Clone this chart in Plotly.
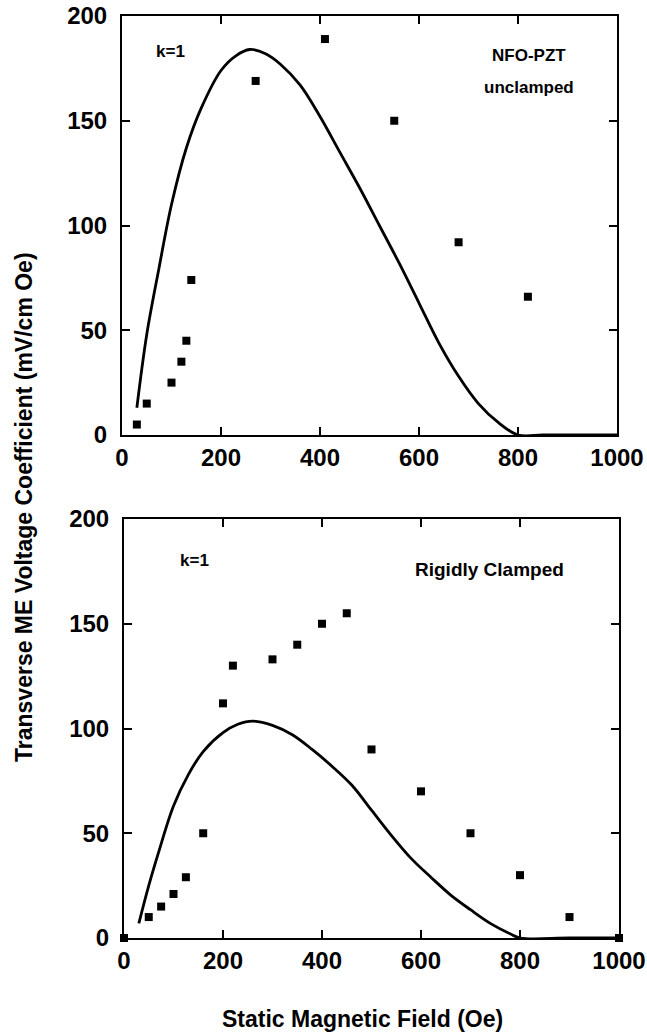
import plotly.graph_objects as go

# ---- data ----
top_exp_x = [30, 50, 100, 120, 130, 140, 270, 410, 550, 680, 820]
top_exp_y = [5, 15, 25, 35, 45, 74, 169, 189, 150, 92, 66]

top_fit_x = [30, 50, 75, 100, 130, 160, 200, 230, 258, 290, 320, 360, 400, 440, 480,
             520, 560, 600, 640, 680, 720, 760, 800, 850, 900, 950, 1000]
top_fit_y = [13, 48, 80, 110, 137, 156, 174, 181, 184, 182, 177, 167, 152, 135, 118,
             100, 82, 63, 44, 28, 15, 6, 0, 0, 0, 0, 0]

bot_exp_x = [0, 50, 75, 100, 125, 160, 200, 220, 300, 350, 400, 450, 500, 600, 700, 800, 900, 1000]
bot_exp_y = [0, 10, 15, 21, 29, 50, 112, 130, 133, 140, 150, 155, 90, 70, 50, 30, 10, 0]

bot_fit_x = [30, 50, 70, 100, 130, 160, 200, 230, 260, 300, 340, 380, 420, 460, 500,
             540, 580, 620, 660, 700, 740, 780, 800, 900, 1000]
bot_fit_y = [7, 25, 41, 63, 78, 89, 98, 102, 103.5, 101.5, 97, 90, 82, 73, 61,
             49, 38, 29, 20.5, 13.5, 7, 2, 0, 0, 0]

x_ticks = [0, 200, 400, 600, 800, 1000]
y_ticks = [0, 50, 100, 150, 200]

FONT = "Liberation Sans, Arial, Helvetica, sans-serif"
W, H = 647, 1036

fig = go.Figure()

line_style = dict(color="black", width=2.8, shape="spline", smoothing=1.0)
marker_style = dict(symbol="square", size=8, color="black")

# top panel
fig.add_trace(go.Scatter(x=top_fit_x, y=top_fit_y, mode="lines", line=line_style,
                         xaxis="x", yaxis="y", showlegend=False, cliponaxis=False))
fig.add_trace(go.Scatter(x=top_exp_x, y=top_exp_y, mode="markers", marker=marker_style,
                         xaxis="x", yaxis="y", showlegend=False, cliponaxis=False))
# bottom panel
fig.add_trace(go.Scatter(x=bot_fit_x, y=bot_fit_y, mode="lines", line=line_style,
                         xaxis="x2", yaxis="y2", showlegend=False, cliponaxis=False))
fig.add_trace(go.Scatter(x=bot_exp_x, y=bot_exp_y, mode="markers", marker=marker_style,
                         xaxis="x2", yaxis="y2", showlegend=False, cliponaxis=False))

def xax(domain, anchor):
    return dict(domain=domain, anchor=anchor, range=[0, 1000], tickvals=x_ticks,
                ticktext=[str(v) for v in x_ticks], automargin=False,
                ticklabeloverflow="allow",
                showline=True, linecolor="black", linewidth=2, mirror="ticks",
                ticks="inside", ticklen=8, tickwidth=1.5, tickcolor="black",
                showgrid=False, zeroline=False, ticklabelstandoff=0,
                tickfont=dict(family=FONT, size=24, color="black", weight="bold"))

def yax(domain, anchor):
    return dict(domain=domain, anchor=anchor, range=[0, 200], tickvals=y_ticks,
                ticktext=[str(v) for v in y_ticks], automargin=False,
                ticklabeloverflow="allow",
                showline=True, linecolor="black", linewidth=2, mirror="ticks",
                ticks="inside", ticklen=8, tickwidth=1.5, tickcolor="black",
                showgrid=False, zeroline=False, ticklabelstandoff=8,
                tickfont=dict(family=FONT, size=24, color="black", weight="bold"))

fig.update_layout(
    width=W, height=H,
    margin=dict(l=0, r=0, t=0, b=0, autoexpand=False),
    paper_bgcolor="white", plot_bgcolor="white",
    xaxis=xax([122 / W, 617 / W], "y"),
    yaxis=yax([1 - 435 / H, 1 - 16 / H], "x"),
    xaxis2=xax([124 / W, 619 / W], "y2"),
    yaxis2=yax([1 - 938 / H, 1 - 519 / H], "x2"),
)

ann_font = dict(family=FONT, size=17, color="black", weight="bold")
annotations = [
    dict(text="k=1", x=97, y=183, xref="x", yref="y", showarrow=False, font=ann_font),
    dict(text="NFO-PZT", x=822, y=181, xref="x", yref="y", showarrow=False, font=ann_font),
    dict(text="unclamped", x=822, y=166, xref="x", yref="y", showarrow=False, font=ann_font),
    dict(text="k=1", x=143, y=180, xref="x2", yref="y2", showarrow=False, font=ann_font),
    dict(text="Rigidly Clamped", x=739, y=176, xref="x2", yref="y2", showarrow=False,
         font=dict(family=FONT, size=19, color="black", weight="bold")),
    dict(text="Transverse ME Voltage Coefficient (mV/cm Oe)", x=24 / W, y=1 - 507 / H,
         xref="paper", yref="paper", showarrow=False, textangle=-90,
         xanchor="center", yanchor="middle",
         font=dict(family=FONT, size=23, color="black", weight="bold")),
    dict(text="Static Magnetic Field (Oe)", x=362 / W, y=1 - 1019 / H,
         xref="paper", yref="paper", showarrow=False,
         xanchor="center", yanchor="middle",
         font=dict(family=FONT, size=23, color="black", weight="bold")),
]
fig.update_layout(annotations=annotations)

fig.write_html("out.html")
